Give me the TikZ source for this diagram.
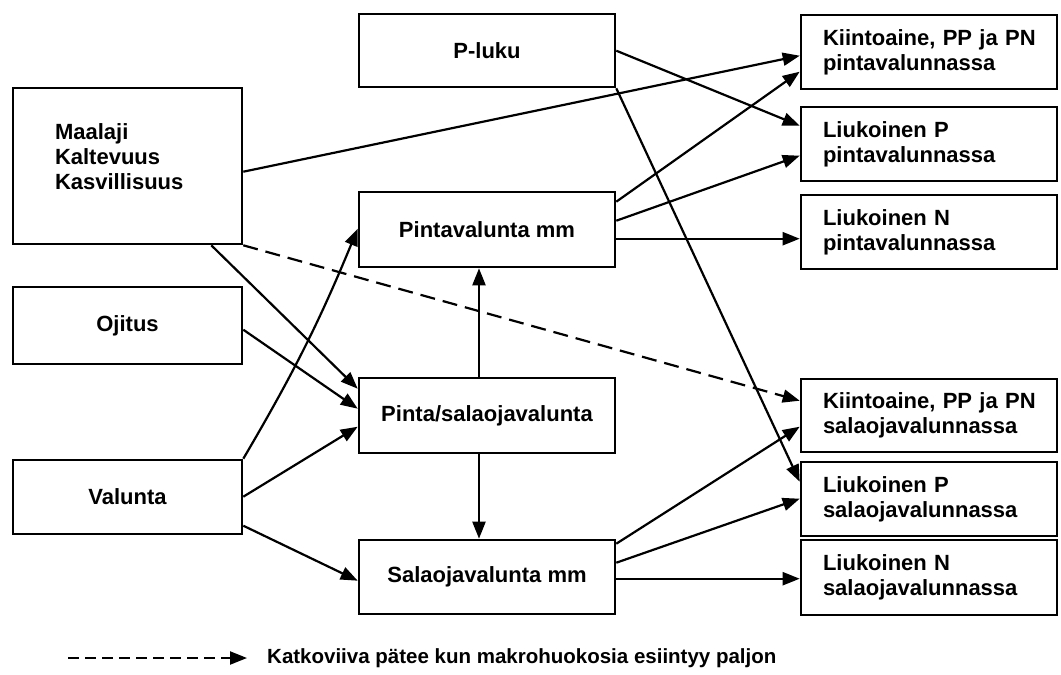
\documentclass[tikz,border=0pt]{standalone}
\usepackage{fontspec}
\setmainfont{Liberation Sans}
\usetikzlibrary{arrows.meta,calc}
\begin{document}
\begin{tikzpicture}[x=1pt,y=-1pt,
  box/.style={draw,line width=2.6pt,rectangle,inner sep=0pt,
    font=\bfseries\fontsize{22}{25}\selectfont},
  leftbox/.style={box,minimum width=256pt,minimum height=74pt,
    inner xsep=22pt,text width=212pt,align=left},
  link/.style={line width=2.2pt,-{Triangle[length=17pt,width=13pt]}},
  dashlink/.style={link,dash pattern=on 15pt off 8pt}]
\useasboundingbox (0,0) rectangle (1061,675);

% input factors
\node[box,minimum width=229pt,minimum height=156pt,inner xsep=42pt,
  text width=145pt,align=left] (maa) at (127.5,166)
  {Maalaji\\Kaltevuus\\Kasvillisuus\\[-6pt]\mbox{}};
\node[box,minimum width=229pt,minimum height=77pt] (oji) at (127.5,325.5) {Ojitus};
\node[box,minimum width=229pt,minimum height=74pt] (val) at (127.5,497) {Valunta};

% runoff components
\node[box,minimum width=256pt,minimum height=73pt] (plu) at (487,50.5) {P-luku};
\node[box,minimum width=256pt,minimum height=75pt] (pin) at (487,229.5) {Pintavalunta mm};
\node[box,minimum width=256pt,minimum height=75pt] (ps) at (487,415.5) {Pinta/salaojavalunta};
\node[box,minimum width=256pt,minimum height=74pt] (sal) at (487,577) {Salaojavalunta mm};

% loads
\node[leftbox] (r1) at (929,52) {Kiintoaine,~PP~ja~PN\\pintavalunnassa};
\node[leftbox] (r2) at (929,144) {Liukoinen~P\\pintavalunnassa};
\node[leftbox] (r3) at (929,232) {Liukoinen~N\\pintavalunnassa};
\node[leftbox,minimum height=73pt] (r4) at (929,415.5) {Kiintoaine,~PP~ja~PN\\salaojavalunnassa};
\node[leftbox] (r5) at (929,499) {Liukoinen~P\\salaojavalunnassa};
\node[leftbox,minimum height=75pt] (r6) at (929,577.5) {Liukoinen~N\\salaojavalunnassa};

% connectors
\draw[link] ([yshift=-85pt]maa.north east) -- ([yshift=-42pt]r1.north west);
\draw[link] ([yshift=-38pt]plu.north east) -- ([yshift=-20pt]r2.north west);
\draw[link] (plu.south east) -- ([yshift=-21pt]r5.north west);
\draw[link] ([yshift=-11pt]pin.north east) -- ([yshift=-58pt]r1.north west);
\draw[link] ([yshift=-30pt]pin.north east) -- ([yshift=-50pt]r2.north west);
\draw[link] ([yshift=-48pt]pin.north east) -- ([yshift=-45pt]r3.north west);
\draw[link] ([xshift=-32pt]maa.south east) -- ([yshift=-12pt]ps.north west);
\draw[dashlink] (maa.south east) -- ([yshift=-23pt]r4.north west);
\draw[link] ([yshift=-44pt]oji.north east) -- ([yshift=-32pt]ps.north west);
\draw[link] (val.north east) to[bend right=4] ([yshift=-38pt]pin.north west);
\draw[link] ([yshift=-38pt]val.north east) -- ([yshift=-50pt]ps.north west);
\draw[link] ([yshift=-67pt]val.north east) -- ([yshift=-42pt]sal.north west);
\draw[link] ([xshift=-8pt]ps.north) -- ([xshift=-8pt]pin.south);
\draw[link] ([xshift=-8pt]ps.south) -- ([xshift=-8pt]sal.north);
\draw[link] ([yshift=-5pt]sal.north east) -- ([yshift=-49pt]r4.north west);
\draw[link] ([yshift=-24pt]sal.north east) -- ([yshift=-38pt]r5.north west);
\draw[link] ([yshift=-40pt]sal.north east) -- ([yshift=-40pt]r6.north west);

% legend
\coordinate (lgA) at (68,658);
\coordinate (lgB) at (247,658);
\draw[link,dash pattern=on 11pt off 6pt] (lgA) -- (lgB);
\node[anchor=west,inner sep=0pt,font=\bfseries\fontsize{20.5}{24}\selectfont]
  (lgT) at (267,658) {Katkoviiva pätee kun makrohuokosia esiintyy paljon};
\end{tikzpicture}
\end{document}
